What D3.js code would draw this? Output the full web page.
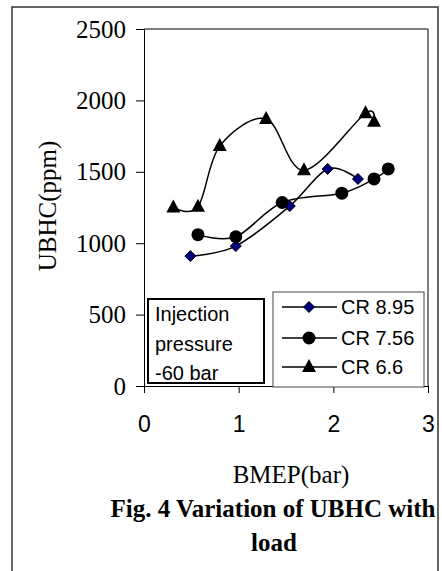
<!DOCTYPE html>
<html>
<head>
<meta charset="utf-8">
<script src="https://cdn.jsdelivr.net/npm/d3@7"></script>
<style>
  body { margin: 0; background: #fff; }
  svg { display: block; }
</style>
</head>
<body>
<div id="chart"></div>
<script>
// BMEP (bar) vs UBHC (ppm)
const cr895X = [0.49, 0.97, 1.54, 1.94, 2.26];
const cr895Y = [910, 980, 1260, 1520, 1450];
const cr756X = [0.57, 0.97, 1.46, 2.09, 2.43, 2.58];
const cr756Y = [1060, 1045, 1285, 1350, 1450, 1520];
const cr66X = [0.31, 0.57, 0.80, 1.29, 1.69, 2.34, 2.43];
const cr66Y = [1250, 1255, 1680, 1870, 1510, 1910, 1850];

const seriesNames = ["CR 8.95", "CR 7.56", "CR 6.6"];
const xTicks = [0, 1, 2, 3];
const yTicks = [0, 500, 1000, 1500, 2000, 2500];
const noteLines = ["Injection", "pressure", "-60 bar"];

const series = [
    { name: seriesNames[0], shape: "diamond", pts: cr895X.map((x, i) => [x, cr895Y[i]]) },
    { name: seriesNames[1], shape: "circle", pts: cr756X.map((x, i) => [x, cr756Y[i]]) },
    { name: seriesNames[2], shape: "triangle", pts: cr66X.map((x, i) => [x, cr66Y[i]]) }
];

const W = 442, H = 571;
const plot = { left: 144, top: 29, right: 428, bottom: 386 };
const serif = "'Liberation Serif', 'Times New Roman', serif";
const sans = "'Liberation Sans', Arial, sans-serif";

const svg = d3.select("#chart").append("svg")
    .attr("width", W)
    .attr("height", H);

// outer frame
svg.append("rect")
    .attr("x", 12).attr("y", 7)
    .attr("width", 426).attr("height", 580)
    .attr("fill", "none")
    .attr("stroke", "#333")
    .attr("stroke-width", 1.5);

const xScale = d3.scaleLinear().domain([0, 3]).range([plot.left, plot.right]);
const yScale = d3.scaleLinear().domain([0, 2500]).range([plot.bottom, plot.top]);

// plot frame (top + right)
svg.append("path")
    .attr("d", `M${plot.left},${plot.top}H${plot.right}V${plot.bottom}`)
    .attr("fill", "none")
    .attr("stroke", "#000")
    .attr("stroke-width", 1);

const yAxis = svg.append("g")
    .attr("transform", `translate(${plot.left},0)`)
    .call(d3.axisLeft(yScale).tickValues(yTicks).tickSize(8).tickSizeOuter(0)
        .tickFormat(d3.format("d")).tickPadding(10));
yAxis.selectAll("text")
    .style("font-family", serif)
    .style("font-size", "25px")
    .attr("fill", "#000");

const xAxis = svg.append("g")
    .attr("transform", `translate(0,${plot.bottom})`)
    .call(d3.axisBottom(xScale).tickValues(xTicks).tickSize(7).tickSizeOuter(0)
        .tickFormat(d3.format("d")).tickPadding(23));
xAxis.selectAll("text")
    .style("font-family", sans)
    .style("font-size", "23px")
    .attr("fill", "#000");
svg.selectAll(".domain, .tick line").attr("stroke", "#000");

// axis titles
svg.append("text")
    .attr("transform", `translate(56,206) rotate(-90)`)
    .attr("text-anchor", "middle")
    .style("font-family", serif)
    .style("font-size", "25px")
    .text("UBHC(ppm)");

svg.append("text")
    .attr("x", 291).attr("y", 483)
    .attr("text-anchor", "middle")
    .style("font-family", serif)
    .style("font-size", "25px")
    .text("BMEP(bar)");

svg.append("text")
    .attr("x", 273).attr("y", 517)
    .attr("text-anchor", "middle")
    .style("font-family", serif)
    .style("font-size", "25px")
    .style("font-weight", "bold")
    .text("Fig. 4 Variation of UBHC with");
svg.append("text")
    .attr("x", 274).attr("y", 551)
    .attr("text-anchor", "middle")
    .style("font-family", serif)
    .style("font-size", "25px")
    .style("font-weight", "bold")
    .text("load");

// markers
function drawMarker(g, shape, x, y) {
    if (shape === "circle") {
        g.append("circle").attr("cx", x).attr("cy", y).attr("r", 6.5).attr("fill", "#000");
    } else if (shape === "triangle") {
        g.append("path")
            .attr("d", `M${x},${y - 8}L${x + 7},${y + 5}L${x - 7},${y + 5}Z`)
            .attr("fill", "#000");
    } else {
        g.append("path")
            .attr("d", `M${x},${y - 5.5}L${x + 5.5},${y}L${x},${y + 5.5}L${x - 5.5},${y}Z`)
            .attr("fill", "#000080")
            .attr("stroke", "#000")
            .attr("stroke-width", 1);
    }
}

const line = d3.line()
    .x(d => xScale(d[0]))
    .y(d => yScale(d[1]))
    .curve(d3.curveCardinal.tension(0));

series.forEach(s => {
    svg.append("path")
        .datum(s.pts)
        .attr("d", line)
        .attr("fill", "none")
        .attr("stroke", "#000")
        .attr("stroke-width", 1.5);
    const g = svg.append("g");
    s.pts.forEach(p => drawMarker(g, s.shape, xScale(p[0]), yScale(p[1])));
});

// note box
svg.append("rect")
    .attr("x", 148).attr("y", 299)
    .attr("width", 116).attr("height", 84)
    .attr("fill", "#fff")
    .attr("stroke", "#000")
    .attr("stroke-width", 2);
svg.append("g").selectAll("text")
    .data(noteLines)
    .enter()
    .append("text")
    .attr("x", 155)
    .attr("y", (d, i) => 321 + i * 29.5)
    .style("font-family", sans)
    .style("font-size", "20px")
    .text(d => d);

// legend
svg.append("rect")
    .attr("x", 273).attr("y", 292)
    .attr("width", 151).attr("height", 95)
    .attr("fill", "#fff")
    .attr("stroke", "#444")
    .attr("stroke-width", 1);
const legendY = [307, 338, 367];
series.forEach((s, i) => {
    const g = svg.append("g");
    g.append("line")
        .attr("x1", 282).attr("x2", 337)
        .attr("y1", legendY[i]).attr("y2", legendY[i])
        .attr("stroke", "#000")
        .attr("stroke-width", 1.5);
    drawMarker(g, s.shape, 309, legendY[i]);
    g.append("text")
        .attr("x", 341)
        .attr("y", legendY[i] + 7)
        .style("font-family", sans)
        .style("font-size", "20px")
        .text(s.name);
});
</script>
</body>
</html>
